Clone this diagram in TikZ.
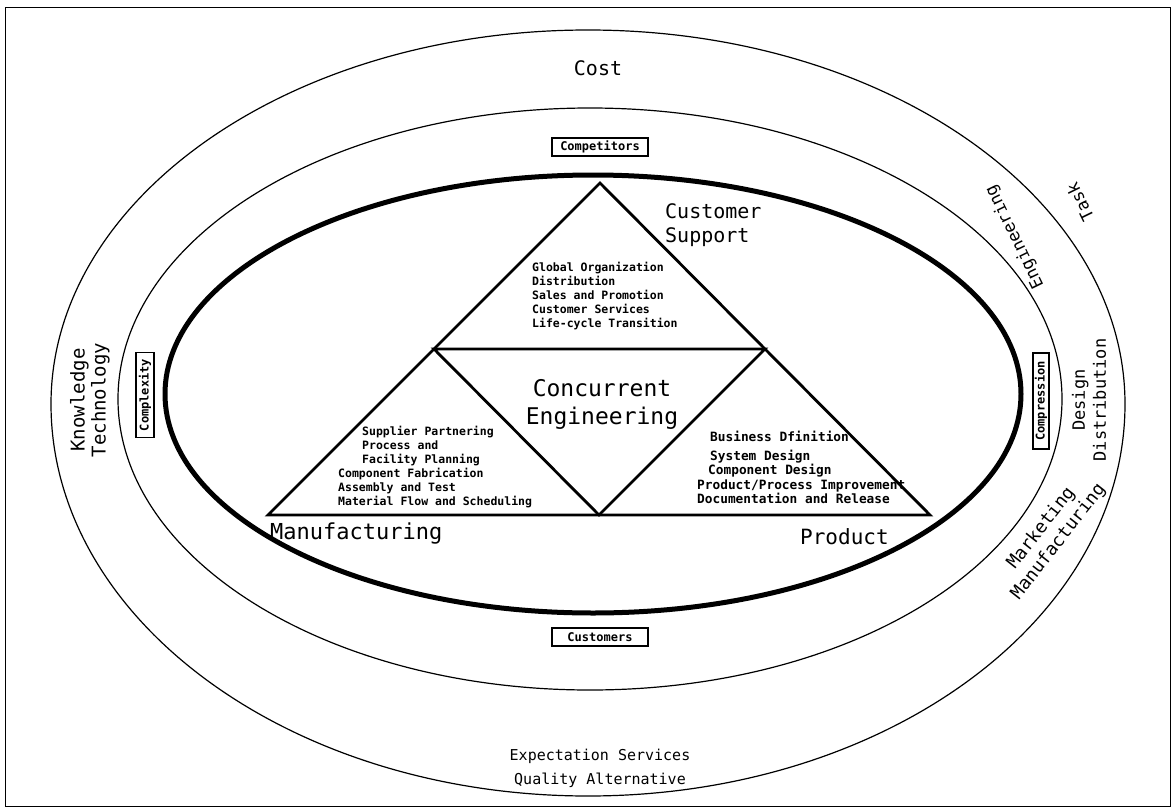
\documentclass[tikz,border=0pt]{standalone}
\usepackage{fontspec}
\setmainfont{DejaVu Sans Mono}
\usetikzlibrary{positioning, calc}

\begin{document}
\begin{tikzpicture}[x=1pt, y=-1pt,
    ringlabel/.style={font=\fontsize{17}{21}\selectfont, align=center, inner sep=0pt},
    facelabel/.style={font=\fontsize{20}{24}\selectfont, align=left, inner sep=0pt},
    tagbox/.style={draw, line width=1.3pt, fill=white, font=\bfseries\fontsize{12}{13}\selectfont,
      inner sep=1pt, minimum width=96pt, minimum height=18pt},
    tasklist/.style={font=\bfseries\fontsize{11.5}{14}\selectfont, align=left, inner sep=0pt, anchor=north west}]
  \useasboundingbox (0,0) rectangle (1176,809);

  % page frame
  \draw[line width=1pt] (5,7) rectangle (1170,806);

  % the three rings (outer one sags a little at the bottom)
  \coordinate (outerleft) at (51,404);
  \draw[line width=1.2pt] (outerleft)
    arc[start angle=180, end angle=0, x radius=537pt, y radius=374pt]
    arc[start angle=0, end angle=-180, x radius=537pt, y radius=392pt] -- cycle;
  \draw[line width=1.2pt] (590,399) ellipse [x radius=472pt, y radius=291pt];
  \draw[line width=5pt] (593,394) ellipse [x radius=428pt, y radius=219pt];

  % triangle cut into four
  \coordinate (apex) at (600,183);
  \coordinate (bl) at (268,515);
  \coordinate (br) at (930,515);
  \coordinate (ml) at ($(apex)!0.5!(bl)$);
  \coordinate (mr) at ($(apex)!0.5!(br)$);
  \coordinate (mb) at ($(bl)!0.5!(br)$);
  \draw[line width=2.8pt, line join=miter] (apex) -- (bl) -- (br) -- cycle;
  \draw[line width=2.8pt, line join=miter] (ml) -- (mr) -- (mb) -- cycle;

  % centre and corner titles
  \node[font=\fontsize{23}{28}\selectfont, align=center, inner sep=0pt] (ce) at (602,404) {Concurrent\\Engineering};
  \node[facelabel, anchor=west] (support) at (665,225) {Customer\\Support};
  \node[facelabel, anchor=west, font=\fontsize{22}{24}\selectfont] (mfg) at (270,533) {Manufacturing};
  \node[facelabel, anchor=west, font=\fontsize{21}{24}\selectfont] (prod) at (800,537) {Product};

  % activities in each corner
  \node[tasklist] (supportlist) at (532,262) {Global Organization\\Distribution\\Sales and Promotion\\Customer Services\\Life-cycle Transition};
  \node[tasklist] (mfglist) at (338,426) {\hspace*{24pt}Supplier Partnering\\\hspace*{24pt}Process and\\\hspace*{24pt}Facility Planning\\Component Fabrication\\Assembly and Test\\Material Flow and Scheduling};
  \node[tasklist, font=\bfseries\fontsize{12.8}{14.5}\selectfont] (prodlist) at (697,431) {\hspace*{13pt}Business Dfinition\\[4pt]\hspace*{13pt}System Design\\\hspace*{11pt}Component Design\\Product/Process Improvement\\Documentation and Release};

  % boxed pressures on the thick ring
  \node[tagbox] (competitors) at (600,147) {Competitors};
  \node[tagbox] (customers) at (600,637) {Customers};
  \node[tagbox, rotate=90, minimum width=85pt] (complexity) at (145,395) {Complexity};
  \node[tagbox, rotate=90, minimum height=16pt] (compression) at (1041,401) {Compression};

  % labels in the outer band
  \node[ringlabel, font=\fontsize{20}{24}\selectfont] (cost) at (598,68) {Cost};
  \node[ringlabel, font=\fontsize{15}{24}\selectfont] (expect) at (600,768) {Expectation Services\\Quality Alternative};
  \node[ringlabel, rotate=90, font=\fontsize{19}{21}\selectfont] (know) at (90,400) {Knowledge\\Technology};
  \node[ringlabel, rotate=90] (design) at (1089,400) {Design\\Distribution};
  \node[ringlabel, rotate=116] (eng) at (1015,237) {Engineering};
  \node[ringlabel, rotate=116] (task) at (1080,202) {Task};
  \node[ringlabel, rotate=52, font=\fontsize{18}{22}\selectfont] (market) at (1050,535) {Marketing\\Manufacturing};
\end{tikzpicture}
\end{document}
